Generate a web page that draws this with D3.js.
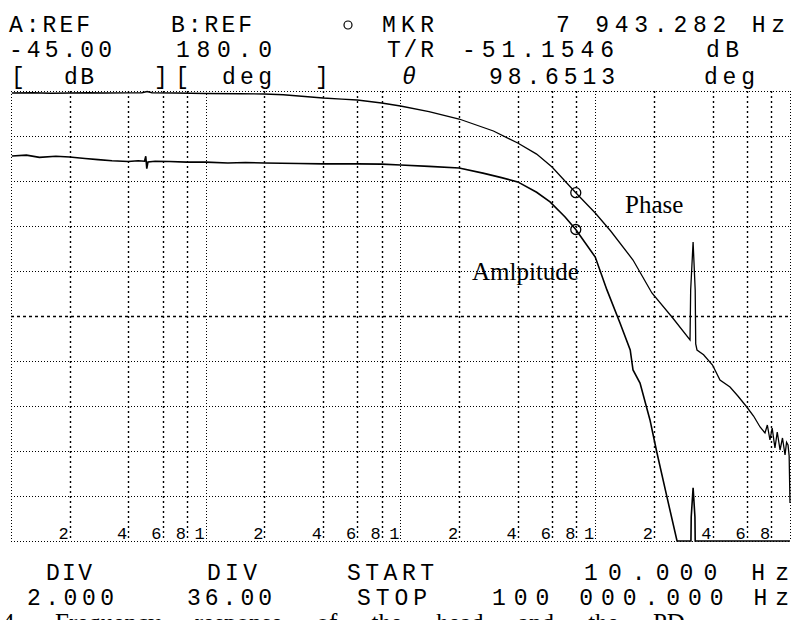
<!DOCTYPE html>
<html>
<head>
<meta charset="utf-8">
<script src="https://cdn.jsdelivr.net/npm/d3@7"></script>
<style>
  body { margin: 0; background: #fff; }
  svg { display: block; }
  text { fill: #000; }
</style>
</head>
<body>
<div id="wrapper"></div>
<script>
// amplitude trace (Hz, dB)
const ampFreq = [10.1, 12, 14, 17, 20, 24, 28, 33, 40, 45, 48.5, 49.2, 49.8, 50.5, 55, 65, 80, 100, 130, 160, 200, 300, 400, 600, 800, 1000, 1400, 2000, 2650, 3300, 4000, 5000, 5860, 7000, 7943.282, 10000, 11480, 13400, 15120, 15630, 16980, 19100, 20750, 23340, 26300, 31000, 31100, 31800, 32500, 32600, 100000]
const ampDb = [-47.89, -47.85, -47.95, -47.9, -47.93, -48.0, -48.05, -48.1, -48.13, -48.1, -48.12, -47.9, -48.45, -48.15, -48.12, -48.13, -48.16, -48.16, -48.2, -48.18, -48.2, -48.22, -48.24, -48.24, -48.25, -48.29, -48.35, -48.42, -48.65, -48.85, -49.04, -49.5, -49.93, -50.6, -51.1546, -52.38, -53.84, -55.31, -56.51, -57.4, -57.98, -59.62, -61.09, -63.04, -65, -65, -63.93, -62.64, -63.93, -65, -65]

// phase trace (Hz, deg)
const phaseFreq = [10.1, 13, 16, 20, 25, 30, 40, 47, 50, 53, 70, 100, 150, 200, 250, 300, 400, 500, 600, 800, 1000, 1400, 2000, 3000, 4000, 5000, 6000, 7943.282, 10000, 12000, 15630, 19540, 25000, 30660, 30900, 31800, 32600, 32800, 33300, 36000, 40000, 43700, 49200, 54000, 60000, 65000, 70200, 74400, 76500, 78900, 81000, 83700, 86000, 88900, 91500, 94300, 96000, 97700, 99000, 100000]
const phaseDeg = [178.4, 178.6, 178.2, 178.4, 178.6, 178.4, 178.5, 178.6, 179.6, 178.6, 178.4, 178.0, 177.8, 177.6, 177.0, 176.0, 174.4, 173.5, 172.8, 170.4, 168.0, 163.5, 157.6, 148.0, 138.4, 129.5, 119.2, 98.6513, 82.4, 68.0, 44.8, 18.4, -1.6, -19.2, 20.8, 59.2, 20.8, -22.4, -27.2, -31.0, -39.2, -51.2, -56.8, -64.0, -72.8, -80.0, -88.8, -93.6, -87.2, -99.2, -89.6, -105.6, -92.8, -107.2, -97.6, -111.2, -101.0, -103.2, -112.0, -149.6]

// marker
const markerFreq = 7943.282
const markerAmp = -51.1546
const markerPhase = 98.6513

// axis settings
const freqStart = 10
const freqStop = 100000
const ampRef = -45
const ampDiv = 2
const phaseRef = 180
const phaseDiv = 36
const divisions = 10
const decades = [10, 100, 1000, 10000]
const gridMults = [2, 4, 6, 8]
const tickLabels = ["2", "4", "6", "8"]
const decadeLabel = "1"

function drawChart() {
  const dimensions = {
    width: 799,
    height: 620,
    plot: { left: 11, right: 790, top: 91, bottom: 541 },
  }
  const p = dimensions.plot

  const svg = d3.select("#wrapper")
    .append("svg")
      .attr("width", dimensions.width)
      .attr("height", dimensions.height)

  const xScale = d3.scaleLog()
    .domain([freqStart, freqStop])
    .range([p.left, p.right])
  const yAmp = d3.scaleLinear()
    .domain([ampRef, ampRef - ampDiv * divisions])
    .range([p.top, p.bottom])
    .clamp(true)
  const yPhase = d3.scaleLinear()
    .domain([phaseRef, phaseRef - phaseDiv * divisions])
    .range([p.top, p.bottom])

  // grid
  const grid = svg.append("g").attr("stroke", "#000").attr("fill", "none")

  const hVals = d3.range(0, divisions + 1).map(i => ampRef - i * ampDiv)
  grid.selectAll("line.h")
    .data(hVals)
    .join("line")
      .attr("x1", p.left).attr("x2", p.right)
      .attr("y1", d => Math.round(yAmp(d)) + 0.5)
      .attr("y2", d => Math.round(yAmp(d)) + 0.5)
      .attr("stroke-width", (d, i) => i == 5 ? 1.4 : 1)
      .attr("stroke-dasharray", (d, i) => i == 5 ? "3,3" : "1,2")

  const minorFreqs = []
  decades.forEach(d => gridMults.forEach(m => minorFreqs.push(d * m)))
  grid.selectAll("line.v")
    .data(minorFreqs)
    .join("line")
      .attr("x1", d => Math.round(xScale(d)) + 0.5)
      .attr("x2", d => Math.round(xScale(d)) + 0.5)
      .attr("y1", p.top).attr("y2", p.bottom)
      .attr("stroke-width", 1.4)
      .attr("stroke-dasharray", "2,3")

  grid.selectAll("line.d")
    .data(decades.concat([freqStop]))
    .join("line")
      .attr("x1", d => Math.round(xScale(d)) + 0.5)
      .attr("x2", d => Math.round(xScale(d)) + 0.5)
      .attr("y1", p.top).attr("y2", p.bottom)
      .attr("stroke-dasharray", "1,2")

  // frequency tick labels along the bottom
  const tickGroup = svg.append("g")
    .attr("font-family", "Liberation Mono, monospace")
    .attr("font-size", 17)
    .attr("text-anchor", "end")
  decades.forEach(dec => {
    gridMults.forEach((m, i) => {
      tickGroup.append("text")
        .attr("x", xScale(dec * m) - 1)
        .attr("y", p.bottom - 2)
        .text(tickLabels[i])
    })
    if (dec > freqStart) {
      tickGroup.append("text")
        .attr("x", xScale(dec) - 1)
        .attr("y", p.bottom - 2)
        .text(decadeLabel)
    }
  })

  // traces
  const ampLine = d3.line()
    .x(d => xScale(d[0]))
    .y(d => yAmp(d[1]))
  const phaseLine = d3.line()
    .x(d => xScale(d[0]))
    .y(d => yPhase(d[1]))

  svg.append("path")
    .datum(d3.zip(ampFreq, ampDb))
    .attr("d", ampLine)
    .attr("fill", "none")
    .attr("stroke", "#000")
    .attr("stroke-width", 1.6)

  svg.append("path")
    .datum(d3.zip(phaseFreq, phaseDeg))
    .attr("d", phaseLine)
    .attr("fill", "none")
    .attr("stroke", "#000")
    .attr("stroke-width", 1.3)

  // markers
  svg.append("circle")
    .attr("cx", xScale(markerFreq)).attr("cy", yAmp(markerAmp))
    .attr("r", 5).attr("fill", "none").attr("stroke", "#000").attr("stroke-width", 1.3)
  svg.append("circle")
    .attr("cx", xScale(markerFreq)).attr("cy", yPhase(markerPhase))
    .attr("r", 5).attr("fill", "none").attr("stroke", "#000").attr("stroke-width", 1.3)

  // annotations
  svg.append("text")
    .attr("x", 625).attr("y", 213)
    .attr("font-family", "Liberation Serif, Times New Roman, serif")
    .attr("font-size", 25)
    .text("Phase")
  svg.append("text")
    .attr("x", 472).attr("y", 280)
    .attr("font-family", "Liberation Serif, Times New Roman, serif")
    .attr("font-size", 25)
    .text("Amlpitude")

  // instrument readout text
  const mono = svg.append("g")
    .attr("font-family", "Liberation Mono, monospace")
    .attr("font-size", 23)

  function readout(str, x0, x1, y, italic) {
    const t = mono.append("text")
      .attr("x", x0)
      .attr("y", y)
      .text(str)
    if (x1 != null) t.attr("textLength", x1 - x0).attr("lengthAdjust", "spacing")
    if (italic) t.attr("font-style", "italic")
  }

  readout("A:REF", 9, 90, 32)
  readout("B:REF", 171, 252, 32)
  mono.append("circle")
    .attr("cx", 348).attr("cy", 25).attr("r", 4)
    .attr("fill", "none").attr("stroke", "#000").attr("stroke-width", 1.2)
  readout("MKR", 382, 434, 32)
  readout("7 943.282 Hz", 556, 785, 32)

  readout("-45.00", 9, 112, 57)
  readout("180.0", 176, 272, 57)
  readout("T/R", 387, 434, 57)
  readout("-51.1546", 462, 614, 57)
  readout("dB", 706, 739, 57)

  readout("[", 11, null, 84)
  readout("dB", 64, 94, 84)
  readout("][", 154, 189, 84)
  readout("deg", 222, 272, 84)
  readout("]", 315, null, 84)
  readout("\u03b8", 402, null, 84, true)
  readout("98.6513", 489, 615, 84)
  readout("deg", 704, 755, 84)

  readout("DIV", 46, 92, 580)
  readout("DIV", 207, 257, 580)
  readout("START", 347, 434, 580)
  readout("10.000 Hz", 584, 789, 580)

  readout("2.000", 27, 114, 605)
  readout("36.00", 187, 272, 605)
  readout("STOP", 357, 427, 605)
  readout("100 000.000 Hz", 492, 789, 605)

  // caption line, cut off by the bottom edge
  svg.append("text")
    .attr("x", 2).attr("y", 631)
    .attr("font-family", "Liberation Serif, Times New Roman, serif")
    .attr("font-size", 25)
    .attr("word-spacing", 28)
    .text("4. Frequency response of the head and the PD")
}

drawChart()
</script>
</body>
</html>
